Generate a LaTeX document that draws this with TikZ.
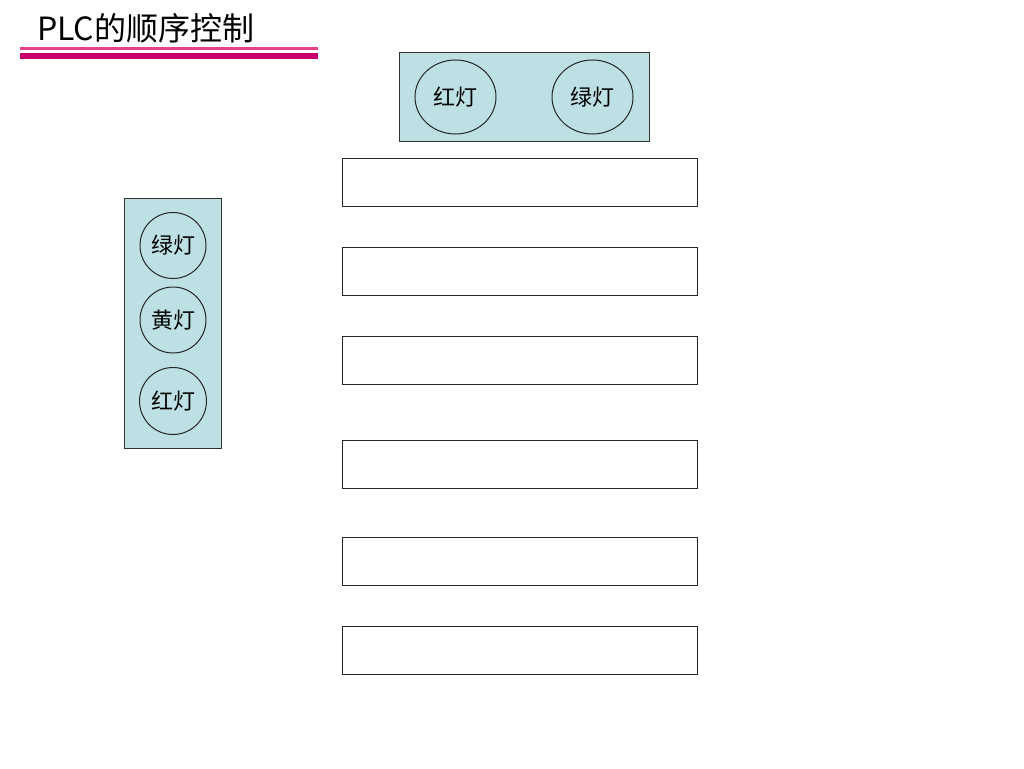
\documentclass[tikz,border=0pt]{standalone}
\usepackage{fontspec}
\usetikzlibrary{shapes.geometric}
\setmainfont{Liberation Serif}
\newfontfamily\cjk{Noto Sans CJK SC}
\definecolor{panel}{HTML}{BCE0E3}
\definecolor{pinkline}{HTML}{E8408A}
\definecolor{magline}{HTML}{C8006A}
\begin{document}
\begin{tikzpicture}[x=1pt,y=-1pt,
  panelbox/.style={draw=black!80,fill=panel,line width=1pt},
  lamp/.style={draw=black!85,line width=1pt,ellipse,inner sep=0pt,font=\cjk\fontsize{22}{22}\selectfont},
  stepbox/.style={draw=black!85,line width=1pt,fill=white,minimum width=355pt,minimum height=48pt,inner sep=0pt}]
\useasboundingbox (0,0) rectangle (1024,768);
% title
\node[anchor=base west,inner sep=0pt,font=\cjk\fontsize{32}{32}\selectfont] (title) at (37,41) {PLC的顺序控制};
\coordinate (l1a) at (20,48.5); \coordinate (l1b) at (318,48.5);
\coordinate (l2a) at (20,56); \coordinate (l2b) at (318,56);
\draw[pinkline,line width=3pt] (l1a) -- (l1b);
\draw[magline,line width=5.5pt] (l2a) -- (l2b);
% top panel
\node[panelbox,minimum width=250pt,minimum height=88pt,inner sep=0pt] (toppanel) at (524,97) {};
\node[lamp,minimum width=81pt,minimum height=74pt] (tred) at (455.5,97) {红灯};
\node[lamp,minimum width=81pt,minimum height=74pt] (tgreen) at (592.5,97) {绿灯};
% left panel
\node[panelbox,minimum width=97pt,minimum height=250pt,inner sep=0pt] (leftpanel) at (172.5,323) {};
\node[lamp,circle,minimum size=66pt] (lgreen) at (173,245.5) {绿灯};
\node[lamp,circle,minimum size=66pt] (lyellow) at (173,320) {黄灯};
\node[lamp,circle,minimum size=67pt] (lred) at (173,401) {红灯};
% step boxes
\node[stepbox] (s1) at (519.5,182) {};
\node[stepbox] (s2) at (519.5,271) {};
\node[stepbox] (s3) at (519.5,360) {};
\node[stepbox] (s4) at (519.5,464) {};
\node[stepbox] (s5) at (519.5,561) {};
\node[stepbox] (s6) at (519.5,650) {};
\end{tikzpicture}
\end{document}
